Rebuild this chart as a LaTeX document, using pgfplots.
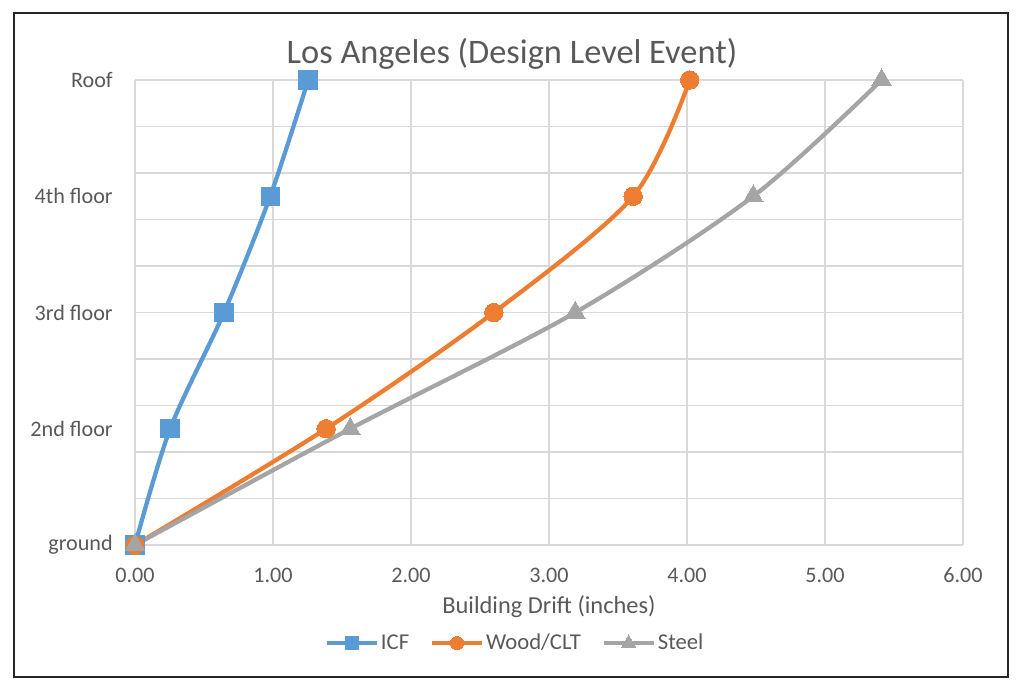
\documentclass[border=0pt]{standalone}
\usepackage{pgfplots}
\pgfplotsset{compat=1.18}
\usepackage{fontspec}
\setmainfont{Carlito}
\definecolor{cicf}{HTML}{5B9BD5}
\definecolor{cwood}{HTML}{ED7D31}
\definecolor{csteel}{HTML}{A5A5A5}
\definecolor{ctext}{HTML}{595959}
\definecolor{cgrid}{HTML}{D9D9D9}
\begin{document}
\begin{tikzpicture}[x=0.75pt,y=0.75pt]
\useasboundingbox (0,0) rectangle (1024,693);
\draw[line width=1.6pt, black!85] (14,16) rectangle (1008,680);
\node[text=ctext, font=\fontsize{25.8}{31}\selectfont] at (512,639) {Los Angeles (Design Level Event)};
\begin{axis}[
  at={(101.25pt,111pt)}, anchor=south west,
  scale only axis, width=621pt, height=348.75pt,
  xmin=0, xmax=6, ymin=0, ymax=10,
  clip=false,
  axis line style={draw=none},
  major tick length=0pt, minor tick length=0pt,
  xtick={0,1,2,3,4,5,6},
  xmajorgrids=true,
  ytick={0,2.5,5,7.5,10},
  yticklabels={ground,2nd floor,3rd floor,4th floor,Roof},
  ymajorgrids=false,
  minor ytick={0,1,2,3,4,5,6,7,8,9,10},
  yminorgrids=true,
  grid style={cgrid, line width=1pt},
  minor grid style={cgrid, line width=1pt},
  /pgf/number format/assume math mode=true,
  xticklabel={\pgfmathprintnumber[fixed,fixed zerofill,precision=2]{\tick}},
  tick label style={font=\fontsize{16.6}{20}\selectfont, text=ctext},
  xticklabel style={anchor=center, yshift=-22.5pt},
  yticklabel style={anchor=east, inner sep=0pt, xshift=-16.5pt},
  xlabel={Building Drift (inches)},
  xlabel style={at={(axis description cs:0.5,-0.1333)}, anchor=center, font=\fontsize{18.3}{22}\selectfont, text=ctext},
  legend columns=3,
  legend style={at={(0.459,-0.211)}, anchor=center, draw=none, fill=none,
    font=\fontsize{17}{20}\selectfont, text=ctext,
    nodes={inner sep=1.5pt},
    /tikz/every even column/.append style={column sep=14pt}},
  legend image code/.code={\draw[#1, /tikz/every mark/.append style={scale=0.72}, mark repeat=2, mark phase=2] plot coordinates {(0pt,0pt)(18.75pt,0pt)(37.5pt,0pt)};},
]
\addplot[cicf, line width=3.2pt, smooth, tension=0.5, mark=square*, mark size=6.9pt, mark options={solid, line width=0pt}]
  coordinates {(0,0) (0.255,2.5) (0.645,5) (0.98,7.5) (1.255,10)};
\addlegendentry{ICF}
\addplot[cwood, line width=3.2pt, smooth, tension=0.5, mark=*, mark size=6.9pt, mark options={solid, line width=0pt}]
  coordinates {(0,0) (1.385,2.5) (2.60,5) (3.61,7.5) (4.02,10)};
\addlegendentry{Wood/CLT}
\addplot[csteel, line width=3.2pt, smooth, tension=0.5, mark=triangle*, mark size=8.5pt, mark options={solid, line width=0pt}]
  coordinates {(0,0) (1.56,2.5) (3.19,5) (4.48,7.5) (5.41,10)};
\addlegendentry{Steel}
\end{axis}
\end{tikzpicture}
\end{document}
